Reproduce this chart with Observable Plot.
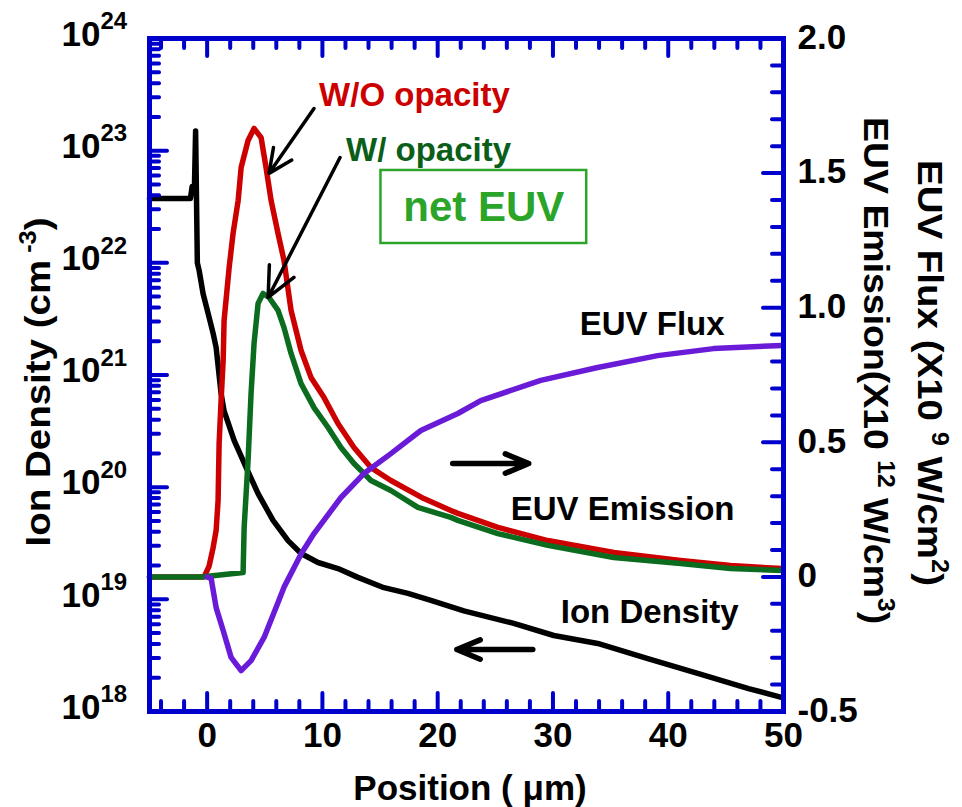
<!DOCTYPE html>
<html><head><meta charset="utf-8">
<script src="https://cdn.jsdelivr.net/npm/d3@7"></script>
<script src="https://cdn.jsdelivr.net/npm/@observablehq/plot@0.6"></script>
<style>
body{margin:0;background:#fff;}
#chart{position:relative;width:962px;height:807px;}
#chart svg{position:absolute;left:0;top:0;}
</style></head><body><div id="chart"></div>
<script>
// ---------- data ----------
const ionX = [-5, -1.45, -1.3, -1.1, -1.0, -0.85, -0.69, -0.35, 0.09, 0.52, 0.78, 1.21, 1.47, 2.34, 3.38, 4.42, 5.72, 7.02, 8.15, 9.62, 11.35, 13.08, 15.34, 17.42, 19.41, 22.27, 26.6, 30.07, 33.88, 38.3, 42.63, 46.97, 49.9];
const ionDensity = [3.74e22, 3.74e22, 4.8e22, 4.8e22, 1.5e23, 1.0e22, 8.5e21, 5.3e21, 3.53e21, 2.35e21, 1.76e21, 6.84e20, 4.79e20, 2.61e20, 1.50e20, 8.77e19, 5.05e19, 3.34e19, 2.56e19, 2.13e19, 1.88e19, 1.57e19, 1.27e19, 1.13e19, 9.8e18, 7.9e18, 6.1e18, 4.76e18, 4.04e18, 2.95e18, 2.18e18, 1.60e18, 1.33e18];

const woX = [-5, -0.26, 0.17, 0.52, 0.78, 0.95, 1.04, 1.21, 1.39, 1.47, 1.91, 2.25, 2.69, 2.95, 3.55, 4.07, 4.68, 5.11, 5.55, 6.15, 6.67, 7.28, 8.15, 9.01, 10.14, 11.35, 12.74, 14.21, 15.94, 18.8, 21.14, 21.75, 25.22, 29.55, 35.27, 41.07, 45.4, 49.9];
const woEmission = [0, 0, 0.04, 0.109, 0.172, 0.284, 0.496, 0.655, 0.804, 0.952, 1.149, 1.276, 1.398, 1.521, 1.621, 1.666, 1.632, 1.521, 1.398, 1.276, 1.175, 0.99, 0.841, 0.741, 0.666, 0.57, 0.481, 0.406, 0.358, 0.291, 0.247, 0.236, 0.184, 0.135, 0.091, 0.061, 0.042, 0.031];

const wX = [-5, -0.52, 3.12, 3.21, 3.55, 3.81, 4.07, 4.42, 4.85, 5.37, 6.15, 6.67, 7.28, 8.15, 9.27, 10.49, 11.61, 12.74, 14.21, 15.94, 18.28, 21.14, 21.75, 25.22, 29.55, 35.27, 41.07, 45.4, 49.9];
const wEmission = [0, 0, 0.016, 0.183, 0.432, 0.681, 0.867, 1.016, 1.053, 1.038, 0.99, 0.926, 0.83, 0.718, 0.629, 0.555, 0.481, 0.421, 0.358, 0.321, 0.258, 0.221, 0.21, 0.161, 0.117, 0.072, 0.05, 0.031, 0.024];

const fluxX = [0, 0.35, 0.78, 1.39, 2.08, 2.95, 3.81, 4.94, 6.15, 6.67, 8.15, 9.27, 11.61, 13.6, 15.94, 18.54, 21.75, 23.74, 28.94, 33.88, 39.08, 43.93, 49.9];
const fluxValue = [0, -0.006, -0.114, -0.199, -0.299, -0.348, -0.311, -0.225, -0.095, -0.038, 0.085, 0.161, 0.295, 0.384, 0.458, 0.544, 0.607, 0.655, 0.73, 0.778, 0.822, 0.848, 0.86];

const xTickMajor = [0, 10, 20, 30, 40, 50];
const xTickMinor = [-4, -2, 2, 4, 6, 8, 12, 14, 16, 18, 22, 24, 26, 28, 32, 34, 36, 38, 42, 44, 46, 48];
const leftExponents = [18, 19, 20, 21, 22, 23, 24];
const leftMinorMantissa = [2, 3, 4, 5, 6, 7, 8, 9];
const rightMajor = [-0.5, 0, 0.5, 1.0, 1.5, 2.0];
const rightLabels = ["-0.5", "0", "0.5", "1.0", "1.5", "2.0"];
const rightMinor = [-0.4, -0.3, -0.2, -0.1, 0.1, 0.2, 0.3, 0.4, 0.6, 0.7, 0.8, 0.9, 1.1, 1.2, 1.3, 1.4, 1.6, 1.7, 1.8, 1.9];

// ---------- layout ----------
const W = 962, H = 807;
const M = {left: 149, right: 179, top: 38, bottom: 96};
const FW = W - M.left - M.right;
const FH = H - M.top - M.bottom;
const BLUE = "#0000cc";
const FONT = "'Liberation Sans', Arial, Helvetica, sans-serif";
const RED = "#cc0000", GREEN = "#0b6b1f", GREEN_TXT = "#0b5e1a", PURPLE = "#6a1bd8", NET = "#2aa52a";

const zip = (xs, ys) => xs.map((x, i) => ({x, y: ys[i]}));
const leftMajor = leftExponents.map(e => 10 ** e);
const leftMinor = leftExponents.slice(0, -1).flatMap(e => leftMinorMantissa.map(m => m * 10 ** e));

const common = {
  width: W, height: H,
  marginLeft: M.left, marginRight: M.right, marginTop: M.top, marginBottom: M.bottom,
  x: {domain: [-5, 50], axis: null},
  style: {fontFamily: FONT, background: "transparent", overflow: "visible"}
};
const tk = {stroke: BLUE, strokeWidth: 4, strokeLinecap: "round"};
const lineStyle = {strokeWidth: 5.5, strokeLinejoin: "round", strokeLinecap: "round"};

// ---------- back plot: log ion density ----------
const p1 = Plot.plot({
  ...common,
  y: {type: "log", domain: [1e18, 1e24], axis: null},
  marks: [
    Plot.line(zip(ionX, ionDensity), {x: "x", y: "y", stroke: "#000", ...lineStyle}),
    Plot.tickY(leftMajor, {y: d => d, insetRight: FW - 18, ...tk}),
    Plot.tickY(leftMinor, {y: d => d, insetRight: FW - 10, ...tk}),
    Plot.tickX(xTickMajor, {x: d => d, insetTop: FH - 18, ...tk}),
    Plot.tickX(xTickMinor, {x: d => d, insetTop: FH - 10, ...tk}),
    Plot.tickX(xTickMajor, {x: d => d, insetBottom: FH - 18, ...tk}),
    Plot.tickX(xTickMinor, {x: d => d, insetBottom: FH - 10, ...tk}),
    Plot.text(leftExponents, {y: e => 10 ** e, text: () => "10", frameAnchor: "left", dx: -49, dy: -4, textAnchor: "end", fontSize: 35, fontWeight: "bold"}),
    Plot.text(leftExponents, {y: e => 10 ** e, text: e => String(e), frameAnchor: "left", dx: -49, dy: -17, textAnchor: "start", fontSize: 24, fontWeight: "bold"}),
    Plot.text(xTickMajor, {x: d => d, text: d => String(d), frameAnchor: "bottom", dy: 35, fontSize: 35, fontWeight: "bold"})
  ]
});

// ---------- front plot: linear EUV ----------
const p2 = Plot.plot({
  ...common,
  y: {domain: [-0.5, 2.0], axis: null},
  marks: [
    Plot.line(zip(woX, woEmission), {x: "x", y: "y", stroke: RED, ...lineStyle}),
    Plot.line(zip(wX, wEmission), {x: "x", y: "y", stroke: GREEN, ...lineStyle}),
    Plot.line(zip(fluxX, fluxValue), {x: "x", y: "y", stroke: PURPLE, ...lineStyle}),
    Plot.tickY(rightMajor, {y: d => d, insetLeft: FW - 20, ...tk}),
    Plot.tickY(rightMinor, {y: d => d, insetLeft: FW - 11, ...tk}),
    Plot.text(rightMajor, {y: d => d, text: (d, i) => rightLabels[i], frameAnchor: "right", dx: 14, dy: -1, textAnchor: "start", fontSize: 35, fontWeight: "bold"}),
    // annotations
    Plot.text([{x: 9.71, y: 1.788, t: "W/O opacity"}], {x: "x", y: "y", text: "t", textAnchor: "start", fill: RED, fontSize: 33, fontWeight: "bold"}),
    Plot.text([{x: 12.05, y: 1.584, t: "W/ opacity"}], {x: "x", y: "y", text: "t", textAnchor: "start", fill: GREEN_TXT, fontSize: 33, fontWeight: "bold"}),
    Plot.rect([{x1: 15.08, x2: 32.93, y1: 1.2385, y2: 1.5097}], {x1: "x1", x2: "x2", y1: "y1", y2: "y2", fill: "none", stroke: NET, strokeWidth: 2.5}),
    Plot.text([{x: 24.0, y: 1.372, t: "net EUV"}], {x: "x", y: "y", text: "t", fill: NET, fontSize: 42, fontWeight: "bold"}),
    Plot.text([{x: 32.32, y: 0.9376, t: "EUV Flux"}], {x: "x", y: "y", text: "t", textAnchor: "start", fontSize: 33, fontWeight: "bold"}),
    Plot.text([{x: 26.34, y: 0.25, t: "EUV Emission"}], {x: "x", y: "y", text: "t", textAnchor: "start", fontSize: 33, fontWeight: "bold"}),
    Plot.text([{x: 30.68, y: -0.132, t: "Ion Density"}], {x: "x", y: "y", text: "t", textAnchor: "start", fontSize: 33, fontWeight: "bold"}),
    Plot.arrow([{x1: 9.27, y1: 1.74, x2: 5.37, y2: 1.499}], {x1: "x1", y1: "y1", x2: "x2", y2: "y2", stroke: "#000", strokeWidth: 3.5, headLength: 14, headAngle: 50}),
    Plot.arrow([{x1: 11.53, y1: 1.558, x2: 5.29, y2: 1.038}], {x1: "x1", y1: "y1", x2: "x2", y2: "y2", stroke: "#000", strokeWidth: 3.5, headLength: 14, headAngle: 50}),
    Plot.arrow([{x1: 21.3, y1: 0.421, x2: 27.9, y2: 0.421}], {x1: "x1", y1: "y1", x2: "x2", y2: "y2", stroke: "#000", strokeWidth: 5.5, headLength: 22, headAngle: 45}),
    Plot.arrow([{x1: 28.25, y1: -0.27, x2: 21.66, y2: -0.27}], {x1: "x1", y1: "y1", x2: "x2", y2: "y2", stroke: "#000", strokeWidth: 5.5, headLength: 22, headAngle: 45}),
    Plot.frame({stroke: BLUE, strokeWidth: 5})
  ]
});

const host = document.getElementById("chart");
host.appendChild(p1);
host.appendChild(p2);

// ---------- axis titles (with superscripts) ----------
const svg = d3.select(p2);
function title(transform, anchor, parts) {
  const t = svg.append("g").attr("transform", transform)
    .append("text").attr("text-anchor", anchor)
    .attr("font-family", FONT).attr("font-weight", "bold").attr("fill", "#000");
  let shift = 0;
  for (const [s, sup] of parts) {
    const target = sup ? -14 : 0;
    t.append("tspan").attr("dy", target - shift).attr("font-size", sup ? 23 : 35).text(s);
    shift = target;
  }
}
title("translate(470,800)", "middle", [["Position ( μm)", false]]);
title("translate(50,382) rotate(-90) scale(1.1,1)", "middle", [["Ion Density (cm", false], [" -3", true], [")", false]]);
title("translate(864,117) rotate(90) scale(1.07,1)", "start", [["EUV Emission(X10 ", false], ["12", true], [" W/cm", false], ["3", true], [")", false]]);
title("translate(918,160) rotate(90) scale(1.1,1)", "start", [["EUV Flux (X10 ", false], ["9", true], [" W/cm", false], ["2", true], [")", false]]);
</script></body></html>
